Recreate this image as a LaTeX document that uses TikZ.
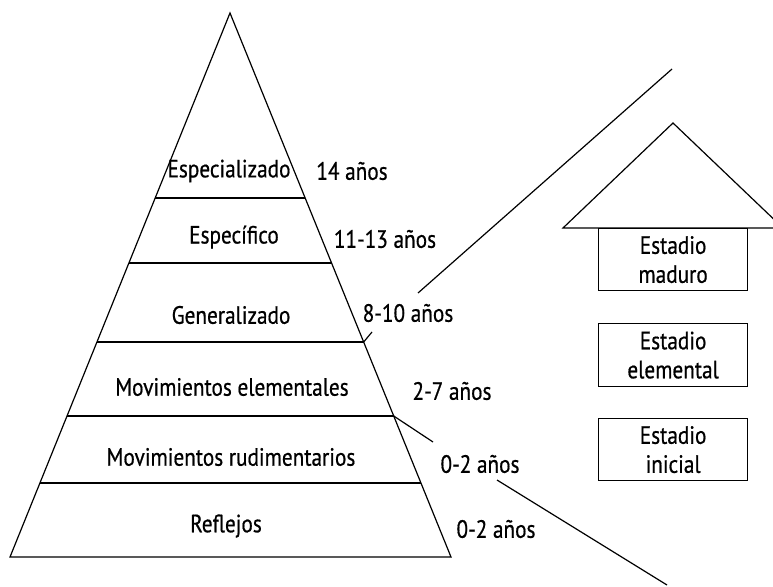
\documentclass[tikz,border=0pt]{standalone}
\usepackage{fontspec}
\setmainfont{PT Sans}[FakeStretch=0.85,FakeBold=0.6]
\usetikzlibrary{calc}
\begin{document}
\begin{tikzpicture}[x=1pt,y=-1pt,
  ln/.style={line width=1.2pt,black},
  tier/.style={line width=1.4pt,black},
  lab/.style={font=\fontsize{25}{29}\selectfont,inner sep=0pt},
  yrs/.style={lab},
  stbox/.style={draw,line width=1.2pt,minimum width=149pt,minimum height=62pt,inner sep=0pt,align=center,font=\fontsize{25}{29}\selectfont}]
\useasboundingbox (0,0) rectangle (773,586);
\fill[white] (0,0) rectangle (773,586);
\begin{scope}
\clip (0,0) rectangle (773,586);
% pyramid
\coordinate (apex) at (230,13);
\coordinate (bl) at (10,557);
\coordinate (br) at (451,557);
\draw[ln] (bl) -- (apex) -- (br) -- cycle;
\foreach \n/\t in {1/0.340,2/0.4596,3/0.6048,4/0.7408,5/0.864}{
  \coordinate (l\n l) at ($(apex)!\t!(bl)$);
  \coordinate (l\n r) at ($(apex)!\t!(br)$);
  \draw[tier] (l\n l) -- (l\n r);
}
% level labels
\node[lab] (esp) at (229,171) {Especializado};
\node[lab] (espf) at (234,237) {Específico};
\node[lab] (gen) at (231,315) {Generalizado};
\node[lab] (mel) at (232,387) {Movimientos elementales};
\node[lab] (mru) at (231,457) {Movimientos rudimentarios};
\node[lab] (ref) at (226,526) {Reflejos};
% ages
\node[yrs] (a1) at (352,171) {14 años};
\node[yrs] (a2) at (385,239) {11-13 años};
\node[yrs] (a3) at (408,313) {8-10 años};
\node[yrs] (a4) at (452,391) {2-7 años};
\node[yrs] (a5) at (480,464) {0-2 años};
\node[yrs] (a6) at (496,529) {0-2 años};
% diagonal connectors
\coordinate (u1) at (372,332);
\coordinate (u2) at (418,293);
\coordinate (uend) at (672,69);
\draw[ln] (l3r) -- (u1);
\draw[ln] (u2) -- (uend);
\coordinate (d1) at (433,442);
\coordinate (d2) at (497,480);
\coordinate (dend) at (667,585);
\draw[ln] (l4r) -- (d1);
\draw[ln] (d2) -- (dend);
% house
\coordinate (rtop) at (673,123);
\coordinate (rl) at (563,228);
\coordinate (rr) at (783,228);
\draw[ln] (rl) -- (rtop) -- (rr) -- cycle;
\node[stbox,anchor=north west] (mad) at (598,228) {Estadio\\maduro};
\node[stbox,anchor=north west,minimum height=63pt] (ele) at (598,323) {Estadio\\elemental};
\node[stbox,anchor=north west] (ini) at (598,418) {Estadio\\inicial};
\end{scope}
\end{tikzpicture}
\end{document}
